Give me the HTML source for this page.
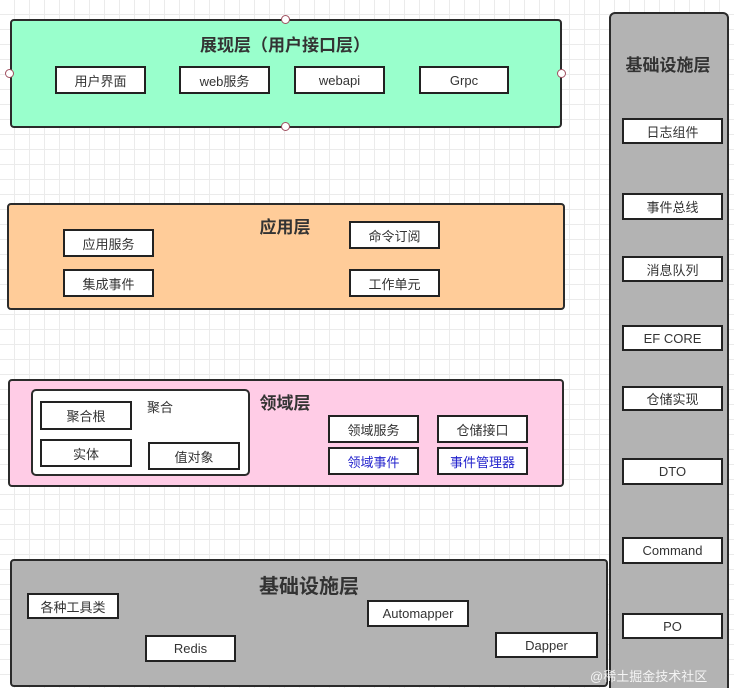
<!DOCTYPE html>
<html><head><meta charset="utf-8"><style>
html,body{margin:0;width:734px;height:688px;overflow:hidden}
body{position:relative;font-family:"Liberation Sans","Noto Sans CJK SC",sans-serif;
background-color:#fff;background-image:linear-gradient(#ebebeb 1px,transparent 1px),linear-gradient(90deg,#ebebeb 1px,transparent 1px);background-size:15px 15px;background-position:-1px -1px}
.p{position:absolute;box-sizing:border-box;border:2px solid #2b2b2b;border-radius:4px}
.b{position:absolute;box-sizing:border-box;border:2px solid #222;background:#fff;font-size:13px;color:#333;display:flex;align-items:center;justify-content:center}
.t{position:absolute;font-weight:bold;font-size:17px;color:#333;transform:translateX(-50%);white-space:nowrap}
.c{position:absolute;width:7px;height:7px;border:1px solid #a05060;border-radius:50%;background:#fff}
.bl{color:#2222cc}
</style></head><body>
<div class="p" style="left:10px;top:19px;width:552px;height:109px;background:#99ffcc"></div>
<div class="t" style="left:285px;top:31px">展现层（用户接口层）</div>
<div class="b" style="left:55px;top:66px;width:91px;height:28px">用户界面</div>
<div class="b" style="left:179px;top:66px;width:91px;height:28px">web服务</div>
<div class="b" style="left:294px;top:66px;width:91px;height:28px">webapi</div>
<div class="b" style="left:419px;top:66px;width:90px;height:28px">Grpc</div>
<div class="c" style="left:281px;top:15px"></div><div class="c" style="left:281px;top:122px"></div>
<div class="c" style="left:5px;top:69px"></div><div class="c" style="left:557px;top:69px"></div>

<div class="p" style="left:7px;top:203px;width:558px;height:107px;background:#ffcc99"></div>
<div class="t" style="left:285px;top:213px">应用层</div>
<div class="b" style="left:63px;top:229px;width:91px;height:28px">应用服务</div>
<div class="b" style="left:63px;top:269px;width:91px;height:28px">集成事件</div>
<div class="b" style="left:349px;top:221px;width:91px;height:28px">命令订阅</div>
<div class="b" style="left:349px;top:269px;width:91px;height:28px">工作单元</div>

<div class="p" style="left:8px;top:379px;width:556px;height:108px;background:#ffcce6"></div>
<div class="p" style="left:31px;top:389px;width:219px;height:87px;background:#fff;border-radius:5px"></div>
<div style="position:absolute;left:147px;top:397px;font-size:13px;color:#333">聚合</div>
<div class="b" style="left:40px;top:401px;width:92px;height:29px">聚合根</div>
<div class="b" style="left:40px;top:439px;width:92px;height:28px">实体</div>
<div class="b" style="left:148px;top:442px;width:92px;height:28px">值对象</div>
<div class="t" style="left:285px;top:389px">领域层</div>
<div class="b" style="left:328px;top:415px;width:91px;height:28px">领域服务</div>
<div class="b bl" style="left:328px;top:447px;width:91px;height:28px">领域事件</div>
<div class="b" style="left:437px;top:415px;width:91px;height:28px">仓储接口</div>
<div class="b bl" style="left:437px;top:447px;width:91px;height:28px">事件管理器</div>

<div class="p" style="left:10px;top:559px;width:598px;height:128px;background:#b3b3b3"></div>
<div class="t" style="left:309px;top:570px;font-size:20px">基础设施层</div>
<div class="b" style="left:27px;top:593px;width:92px;height:26px">各种工具类</div>
<div class="b" style="left:145px;top:635px;width:91px;height:27px">Redis</div>
<div class="b" style="left:367px;top:600px;width:102px;height:27px">Automapper</div>
<div class="b" style="left:495px;top:632px;width:103px;height:26px">Dapper</div>

<div class="p" style="left:609px;top:12px;width:120px;height:700px;background:#b3b3b3;border-radius:6px"></div>
<div class="t" style="left:668px;top:51px">基础设施层</div>
<div class="b" style="left:622px;top:118px;width:101px;height:26px">日志组件</div>
<div class="b" style="left:622px;top:193px;width:101px;height:27px">事件总线</div>
<div class="b" style="left:622px;top:256px;width:101px;height:26px">消息队列</div>
<div class="b" style="left:622px;top:325px;width:101px;height:26px">EF CORE</div>
<div class="b" style="left:622px;top:386px;width:101px;height:25px">仓储实现</div>
<div class="b" style="left:622px;top:458px;width:101px;height:27px">DTO</div>
<div class="b" style="left:622px;top:537px;width:101px;height:27px">Command</div>
<div class="b" style="left:622px;top:613px;width:101px;height:26px">PO</div>
<div style="position:absolute;left:590px;top:666px;font-size:13px;color:rgba(255,255,255,0.85)">@稀土掘金技术社区</div>
</body></html>
